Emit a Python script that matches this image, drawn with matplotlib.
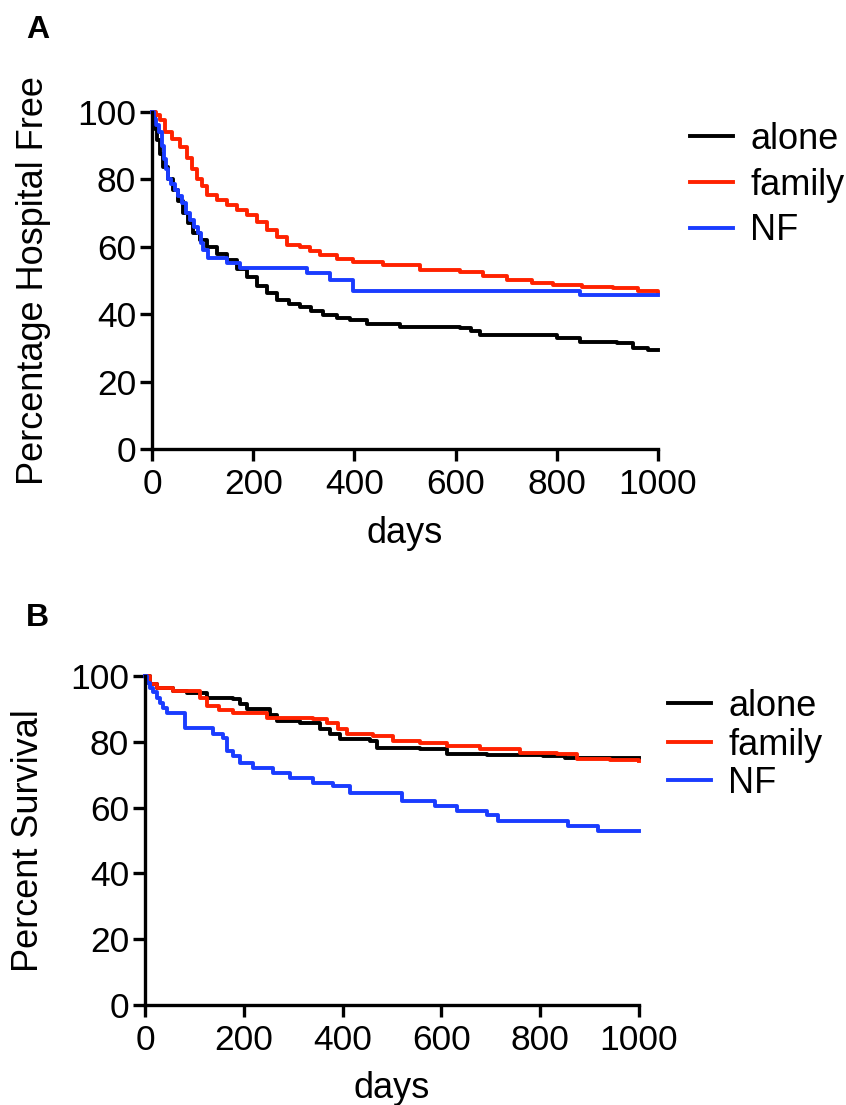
import numpy as np
import matplotlib
matplotlib.use("Agg")
import matplotlib.pyplot as plt

plt.rcParams['font.family'] = ['Liberation Sans', 'DejaVu Sans']

# Panel A: hospital-free curves (days, percent)
a_alone_days = [0, 5, 10, 16, 22, 32, 42, 52, 62, 72, 82, 95, 108, 128, 148, 168, 187, 207, 227, 247,
                270, 292, 315, 338, 365, 391, 425, 490, 609, 630, 648, 800, 846, 919, 951, 980, 1000]
a_alone_vals = [100, 95, 91.7, 87.5, 83.7, 80, 76.9, 73.5, 70, 67, 64, 62, 60, 58, 56, 53.5, 51, 48.5, 46.3, 44.2,
                43, 42.1, 41, 39.8, 39, 38.3, 37.2, 36.3, 35.9, 35, 33.8, 32.9, 31.8, 31.4, 30, 29.4, 29.4]

a_family_days = [0, 8, 16, 26, 40, 55, 69, 80, 89, 98, 108, 128, 148, 167, 187, 207, 227, 247, 266, 292,
                 312, 332, 365, 398, 457, 530, 609, 655, 701, 750, 793, 850, 911, 960, 1000]
a_family_vals = [100, 99, 97.6, 94, 92, 89.6, 86.3, 83, 80, 78, 75.4, 74, 72.4, 71, 69.4, 67.3, 65, 63, 60.5, 60,
                 58.8, 57.6, 56.5, 55.5, 54.6, 53, 52.5, 51.3, 50.1, 49.4, 48.7, 48.2, 47.8, 47, 46.6]

a_nf_days = [0, 3, 8, 14, 20, 24, 28, 31, 38, 45, 52, 60, 68, 75, 83, 91, 97, 101, 111, 148, 174, 306, 352,
             398, 846, 1000]
a_nf_vals = [100, 98, 96, 94, 90, 86, 83, 80, 78.5, 77, 75, 73, 70, 68, 66, 64, 61, 59, 56.7, 55.2, 53.7, 52.2,
             50.1, 47, 45.7, 45.7]

# Panel B: survival curves (days, percent)
b_alone_days = [0, 10, 24, 57, 85, 125, 178, 192, 206, 239, 253, 267, 314, 354, 375, 395, 455, 469, 557,
                611, 692, 806, 850, 1000]
b_alone_vals = [100, 97.5, 96.4, 95.5, 94.8, 93.3, 93, 91.5, 90, 90, 88, 86.4, 85.8, 83.9, 82.4, 80.9, 80.3,
                78.2, 77.9, 76.4, 76, 75.8, 75.2, 75.2]

b_family_days = [0, 10, 24, 57, 111, 125, 150, 178, 247, 340, 368, 390, 409, 462, 502, 557, 611, 678, 759,
                 834, 874, 941, 1000]
b_family_vals = [100, 97.5, 96.4, 95.5, 93.3, 90.9, 89.8, 88.8, 87.3, 87, 85.8, 84, 82.4, 81.8, 80.3, 79.7,
                 78.8, 77.9, 76.7, 76.4, 74.8, 74.5, 74.2]

b_nf_days = [0, 5, 10, 17, 24, 30, 36, 45, 81, 138, 158, 166, 178, 192, 219, 259, 294, 340, 381, 415, 520,
             587, 632, 692, 715, 856, 917, 1000]
b_nf_vals = [100, 98, 96.4, 95, 93.3, 91.8, 90.3, 88.8, 84.2, 82.4, 81.2, 77.3, 75.8, 73.6, 72.1, 70.6, 69.1,
             67.6, 66.7, 64.5, 62.1, 60.6, 59, 57.6, 56, 54.5, 53, 53]

labels = ['alone', 'family', 'NF']
colors = ['black', '#ff2200', '#1a3cff']

W, H = 846, 1105
fig = plt.figure(figsize=(W / 100, H / 100), dpi=100)

axA = fig.add_axes([152 / W, 1 - 449 / H, 506 / W, 337 / H])
axB = fig.add_axes([145 / W, 1 - 1005 / H, 494 / W, 329 / H])


def style(ax, ylabel, ylab_x, xlab_y):
    ax.set_xlim(0, 1000)
    ax.set_ylim(0, 100)
    ax.set_xticks([0, 200, 400, 600, 800, 1000])
    ax.set_yticks([0, 20, 40, 60, 80, 100])
    for s in ['top', 'right']:
        ax.spines[s].set_visible(False)
    for s in ['left', 'bottom']:
        ax.spines[s].set_linewidth(2.4)
    ax.tick_params(axis='both', length=8.5, width=2.4, labelsize=25.5)
    ax.tick_params(axis='y', pad=3)
    ax.tick_params(axis='x', pad=5)
    ax.set_xlabel('days', fontsize=26)
    ax.set_ylabel(ylabel, fontsize=26)
    ax.yaxis.set_label_coords(ylab_x, 0.5)
    ax.xaxis.set_label_coords(0.5, xlab_y)


series_a = [(a_alone_days, a_alone_vals), (a_family_days, a_family_vals), (a_nf_days, a_nf_vals)]
series_b = [(b_alone_days, b_alone_vals), (b_family_days, b_family_vals), (b_nf_days, b_nf_vals)]

for (d, v), lab, c in zip(series_a, labels, colors):
    axA.plot(d, v, drawstyle='steps-post', color=c, lw=2.8, label=lab, clip_on=False)
for (d, v), lab, c in zip(series_b, labels, colors):
    axB.plot(d, v, drawstyle='steps-post', color=c, lw=2.8, label=lab, clip_on=False)

style(axA, 'Percentage Hospital Free', -0.2, -0.2)
style(axB, 'Percent Survival', -0.2, -0.2)

axA.legend(loc='center left', bbox_to_anchor=(690 / W, 1 - 185 / H), bbox_transform=fig.transFigure,
           frameon=False, fontsize=26, handlelength=1.2, handletextpad=0.47, borderpad=0,
           borderaxespad=0, labelspacing=0.3)
axB.legend(loc='center left', bbox_to_anchor=(668 / W, 1 - 745 / H), bbox_transform=fig.transFigure,
           frameon=False, fontsize=26, handlelength=1.2, handletextpad=0.47, borderpad=0,
           borderaxespad=0, labelspacing=0.1)

fig.text(38 / W, 1 - 30 / H, 'A', fontsize=23, fontweight='bold', ha='center', va='center')
fig.text(37 / W, 1 - 618 / H, 'B', fontsize=23, fontweight='bold', ha='center', va='center')

fig.savefig('out.png', dpi=100)
